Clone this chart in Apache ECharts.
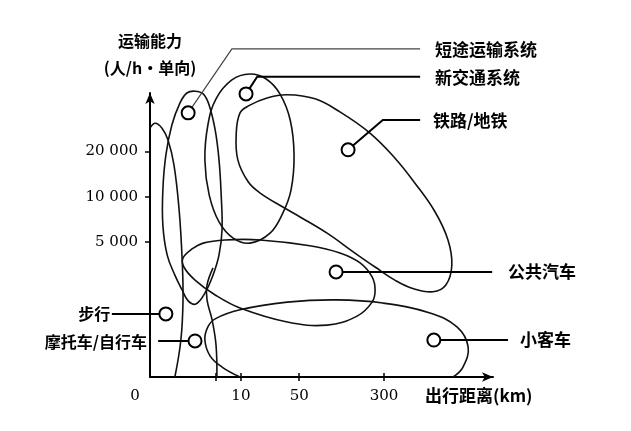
<!DOCTYPE html>
<html>
<head>
<meta charset="utf-8">
<script src="https://cdn.jsdelivr.net/npm/echarts@6/dist/echarts.min.js"></script>
<style>
  html, body { margin: 0; padding: 0; background: #fff; }
  #chart { width: 631px; height: 431px; }
</style>
</head>
<body>
<div id="chart"></div>
<script>
// 示意坐标：横轴 = 出行距离，纵轴 = 运输能力（刻度为示意单位）
const modeNames = ['短途运输系统', '新交通系统', '铁路/地铁', '公共汽车', '小客车', '步行', '摩托车/自行车'];
const modeX = [8.9, 22.4, 46.2, 43.4, 66.2, 3.7, 10.5];
const modeY = [58.6, 62.8, 50.4, 23.3, 8.2, 14.0, 8.0];

// 坐标轴刻度
const xTickValues = [15.4, 21.2, 34.8, 54.6];
const xLabelValues = [0, 21.2, 34.8, 54.6];
const xLabelTexts = ['0', '10', '50', '300'];
const yTickValues = [30, 40, 50];
const yLabelTexts = ['5 000', '10 000', '20 000'];

// 各方式适用范围（轮廓点）
const walkRange = [[0, 55.2], [1.2, 56.3], [2.8, 55.2], [4.2, 52.6], [5.6, 47.0], [6.8, 37.0], [7.5, 26.0], [7.7, 17.1], [7.2, 8.2], [5.8, 0]];
const bikeRange = [[14.7, 24.2], [13.3, 20.4], [13.3, 17.1], [14.5, 12.6], [15.4, 7.1], [15.6, 0]];
const shortRange = [[10.5, 63.4], [12.4, 62.8], [13.8, 60.3], [15.2, 54.8], [16.1, 48.1], [16.6, 40.4], [16.8, 32.6], [16.1, 27.1], [14.7, 22.6], [12.8, 18.6], [10.7, 16.2], [8.9, 16.9], [7.5, 19.3], [5.8, 22.6], [4.0, 27.1], [3.0, 33.7], [3.0, 41.5], [3.7, 49.2], [5.1, 55.9], [7.0, 60.8], [8.6, 63.0]];
const newTransitRange = [[23.3, 67.2], [27.1, 66.1], [30.3, 62.8], [32.7, 57.0], [33.6, 49.2], [32.9, 41.5], [31.0, 36.4], [28.0, 31.9], [23.3, 29.7], [19.4, 30.8], [16.1, 34.4], [13.8, 40.4], [12.8, 48.1], [13.5, 55.9], [15.4, 61.7], [19.1, 65.9]];
const railRange = [[21.0, 58.6], [23.3, 60.3], [27.3, 61.9], [32.0, 62.6], [38.5, 61.7], [44.3, 58.8], [51.3, 54.1], [57.1, 48.6], [61.8, 43.0], [66.5, 36.6], [69.5, 30.4], [70.4, 24.8], [69.0, 20.4], [66.0, 18.9], [61.1, 19.7], [57.1, 21.5], [52.5, 24.4], [47.8, 27.5], [41.3, 31.9], [35.0, 35.5], [31.0, 37.7], [25.7, 40.8], [22.9, 43.3], [20.5, 48.1], [20.1, 53.7]];
const busRange = [[7.7, 26.4], [9.8, 28.4], [12.4, 29.7], [17.5, 30.4], [25.7, 30.4], [37.3, 29.1], [44.3, 27.5], [49.0, 25.3], [51.8, 22.2], [52.5, 19.3], [51.8, 16.6], [48.3, 13.5], [41.3, 11.5], [32.0, 12.2], [21.0, 15.3], [15.2, 18.2], [10.5, 21.5], [7.9, 24.4]];
const carRange = [[21.0, 0], [16.8, 2.2], [14.0, 4.7], [12.8, 8.2], [13.5, 11.1], [15.2, 12.9], [21.0, 14.9], [32.0, 16.6], [43.6, 17.1], [54.3, 16.4], [65.3, 14.2], [71.6, 11.1], [74.2, 6.7], [73.0, 2.2], [70.7, 0]];

// 轮廓：是否闭合
const regions = [
  { pts: walkRange, closed: false },
  { pts: bikeRange, closed: false },
  { pts: shortRange, closed: true },
  { pts: newTransitRange, closed: true },
  { pts: railRange, closed: true },
  { pts: busRange, closed: true },
  { pts: carRange, closed: false }
];

// 标注引线（折点 + 文字位置）
const leaders = [
  { mode: 0, bend: [[19.1, 72.8], [63.0, 72.8]], at: [66.5, 72.6], align: 'left', thin: true },
  { mode: 1, bend: [[25.0, 66.6], [63.0, 66.6]], at: [66.5, 66.4], align: 'left' },
  { mode: 2, bend: [[54.3, 57.0], [63.0, 57.0]], at: [66.0, 56.9], align: 'left' },
  { mode: 3, bend: [[79.8, 23.3]], at: [83.5, 23.4], align: 'left' },
  { mode: 4, bend: [[83.5, 8.2]], at: [86.3, 8.2], align: 'left' },
  { mode: 5, bend: [[-8.9, 14.0]], at: [-9.3, 13.9], align: 'right' },
  { mode: 6, bend: [[1.9, 8.0]], at: [-0.7, 7.8], align: 'right' }
];

const cjk = '"Noto Sans CJK SC", sans-serif';
const chart = echarts.init(document.getElementById('chart'));

const option = {
  animation: false,
  backgroundColor: '#fff',
  grid: { left: 150, right: 138, top: 93, bottom: 54, containLabel: false, outerBoundsMode: 'none' },
  xAxis: [{
    type: 'value', min: 0, max: 80,
    name: '出行距离(km)', nameLocation: 'end', nameGap: -68, nameMoveOverlap: false,
    nameTextStyle: { color: '#000', fontFamily: cjk, fontSize: 17, fontWeight: 'bold', align: 'left', verticalAlign: 'top', padding: [10, 0, 0, 0] },
    axisLine: { show: true, symbol: ['none', 'arrow'], symbolSize: [7, 11], lineStyle: { color: '#000', width: 2 } },
    axisTick: { show: true, customValues: xTickValues, length: 4, lineStyle: { color: '#000', width: 1.5 } },
    axisLabel: {
      customValues: xLabelValues,
      formatter: v => {
        const t = xLabelTexts[xLabelValues.indexOf(v)];
        return v === 0 ? '{z|' + t + '}' : t;
      },
      color: '#000', fontFamily: 'DejaVu Serif', fontSize: 15, margin: 12,
      rich: { z: { color: '#000', fontFamily: 'DejaVu Serif', fontSize: 15, padding: [0, 30, 0, 0] } }
    },
    splitLine: { show: false }
  }, {
    type: 'value', min: 0, max: 80, position: 'bottom',
    axisLine: { show: false },
    axisTick: { show: true, inside: true, customValues: xTickValues, length: 4, lineStyle: { color: '#000', width: 1.5 } },
    axisLabel: { show: false },
    splitLine: { show: false }
  }],
  yAxis: [{
    type: 'value', min: 0, max: 63,
    name: '运输能力\n(人/h·单向)', nameLocation: 'end', nameGap: 12,
    nameTextStyle: { color: '#000', fontFamily: cjk, fontSize: 16, fontWeight: 'bold', lineHeight: 27, align: 'center' },
    axisLine: { show: true, symbol: ['none', 'arrow'], symbolSize: [7, 11], lineStyle: { color: '#000', width: 2 } },
    axisTick: { show: true, customValues: yTickValues, length: 5, lineStyle: { color: '#000', width: 1.5 } },
    axisLabel: {
      customValues: yTickValues,
      formatter: v => yLabelTexts[yTickValues.indexOf(v)],
      color: '#000', fontFamily: 'DejaVu Serif', fontSize: 15, margin: 12
    },
    splitLine: { show: false }
  }],
  series: [{
    // 适用范围轮廓
    type: 'custom',
    silent: true,
    data: regions.map((r, i) => [i, 0]),
    renderItem: (params, api) => {
      const r = regions[params.dataIndex];
      return {
        type: r.closed ? 'polygon' : 'polyline',
        shape: { points: r.pts.map(p => api.coord(p)), smooth: 0.4 },
        style: { fill: 'none', stroke: '#111', lineWidth: 1.6 }
      };
    },
    z: 2
  }, {
    // 引线和名称
    type: 'custom',
    silent: true,
    data: leaders.map((l, i) => [i, 0]),
    renderItem: (params, api) => {
      const l = leaders[params.dataIndex];
      const path = [[modeX[l.mode], modeY[l.mode]]].concat(l.bend).map(p => api.coord(p));
      const at = api.coord(l.at);
      return {
        type: 'group',
        children: [{
          type: 'polyline',
          shape: { points: path },
          style: { fill: 'none', stroke: l.thin ? '#444' : '#000', lineWidth: l.thin ? 1.2 : 2 }
        }, {
          type: 'text',
          x: at[0], y: at[1],
          style: {
            text: modeNames[l.mode], fill: '#000',
            fontFamily: cjk, fontSize: l.mode >= 5 ? 16 : 17, fontWeight: 'bold',
            align: l.align, verticalAlign: 'middle'
          }
        }]
      };
    },
    z: 3
  }, {
    // 各出行方式
    type: 'scatter',
    silent: true,
    symbol: 'circle',
    symbolSize: 13,
    data: modeX.map((x, i) => [x, modeY[i]]),
    itemStyle: { color: '#fff', borderColor: '#000', borderWidth: 2, opacity: 1 },
    z: 5
  }]
};

chart.setOption(option);
</script>
</body>
</html>
